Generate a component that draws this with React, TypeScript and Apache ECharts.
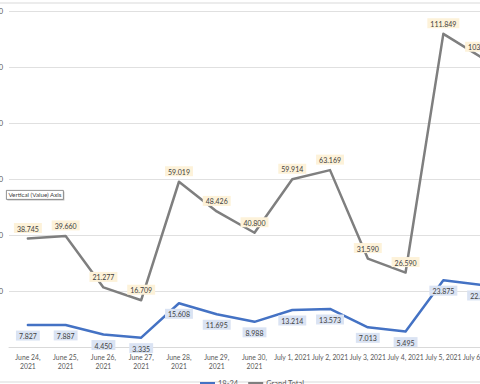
import React, { useEffect, useRef } from "react";
import * as echarts from "echarts";

const categories = [
  "June 24,\n2021", "June 25,\n2021", "June 26,\n2021", "June 27,\n2021",
  "June 28,\n2021", "June 29,\n2021", "June 30,\n2021", "July 1, 2021",
  "July 2, 2021", "July 3, 2021", "July 4, 2021", "July 5, 2021", "July 6, 2021",
];
const series1824 = [7827, 7887, 4450, 3335, 15608, 11695, 8988, 13214, 13573, 7013, 5495, 23875, 22150];
const seriesGrandTotal = [38745, 39660, 21277, 16709, 59019, 48426, 40800, 59914, 63169, 31590, 26590, 111849, 103500];
const yTicks = { min: 0, max: 120000, interval: 20000 };

const FONT = "Lato, 'Open Sans', sans-serif";
const fmt = (n: number) => {
  if (n === 0) return "";
  const th = Math.floor(n / 1000);
  const rest = String(Math.round(n % 1000)).padStart(3, "0");
  return th > 0 ? `${th}.${rest}` : String(n);
};

export default function App() {
  const ref = useRef<HTMLDivElement>(null);
  useEffect(() => {
    if (!ref.current) return;
    const chart = echarts.init(ref.current, undefined, { renderer: "svg" });
    chart.setOption({
      animation: false,
      backgroundColor: "#ffffff",
      grid: { left: 9, right: 20, top: 11, bottom: 37, containLabel: false, outerBoundsMode: "none" },
      xAxis: {
        type: "category",
        data: categories,
        boundaryGap: true,
        axisLine: { show: true, lineStyle: { color: "#d9d9d9", width: 1 } },
        axisTick: { show: false },
        axisLabel: {
          color: "#595959",
          fontFamily: FONT,
          fontSize: 6.8,
          lineHeight: 9,
          margin: 5,
          interval: 0,
          hideOverlap: false,
        },
      },
      yAxis: {
        type: "value",
        min: yTicks.min,
        max: yTicks.max,
        interval: yTicks.interval,
        axisLine: { show: false },
        axisTick: { show: false },
        splitLine: { lineStyle: { color: "#e0e0e0", width: 1 } },
        axisLabel: {
          color: "#595959",
          fontFamily: FONT,
          fontSize: 7.5,
          margin: 6,
          formatter: (v: number) => fmt(v),
        },
      },
      legend: {
        left: 195,
        top: 374,
        icon: "rect",
        itemWidth: 15,
        itemHeight: 2,
        itemGap: 10,
        textStyle: { color: "#595959", fontFamily: FONT, fontSize: 7.5, padding: [0, 0, 0, -2] },
        data: ["18-24", "Grand Total"],
      },
      series: [
        {
          name: "18-24",
          type: "line",
          data: series1824,
          symbol: "circle",
          symbolSize: 1,
          itemStyle: { color: "#4472c4" },
          lineStyle: { color: "#4472c4", width: 2.5, cap: "round", join: "round" },
          label: {
            show: true,
            position: "bottom",
            distance: 5,
            color: "#404040",
            fontFamily: FONT,
            fontSize: 7,
            backgroundColor: "#dae3f3",
            padding: [2, 3, 1, 3],
            formatter: (p: any) => fmt(p.value),
          },
          z: 3,
        },
        {
          name: "Grand Total",
          type: "line",
          data: seriesGrandTotal,
          symbol: "circle",
          symbolSize: 1,
          itemStyle: { color: "#7f7f7f" },
          lineStyle: { color: "#7f7f7f", width: 2.5, cap: "round", join: "round" },
          label: {
            show: true,
            position: "top",
            distance: 5,
            color: "#404040",
            fontFamily: FONT,
            fontSize: 7,
            backgroundColor: "#fdf2d9",
            padding: [2, 3, 1, 3],
            formatter: (p: any) => fmt(p.value),
          },
          z: 2,
        },
      ],
      graphic: [
        {
          type: "rect",
          shape: { x: -10, y: 3, width: 560, height: 379 },
          style: { fill: "none", stroke: "#d9d9d9", lineWidth: 1 },
          silent: true,
          z: -1,
        },
        {
          type: "group",
          left: 6,
          top: 190,
          z: 100,
          children: [
            { type: "rect", shape: { x: 1, y: 1, width: 57, height: 9 }, style: { fill: "#bfbfbf" } },
            { type: "rect", shape: { x: 0, y: 0, width: 57, height: 9 }, style: { fill: "#ffffff", stroke: "#767676", lineWidth: 0.8 } },
            {
              type: "text",
              x: 2,
              y: 1.5,
              style: { text: "Vertical (Value) Axis", fill: "#404040", fontFamily: FONT, fontSize: 6.2 },
            },
          ],
        },
      ],
    });
    return () => chart.dispose();
  }, []);
  return (
    <div style={{ position: "absolute", left: 0, top: 0, width: 480, height: 384, overflow: "hidden", background: "#fff" }}>
      <div ref={ref} style={{ width: 520, height: 384 }} />
    </div>
  );
}
